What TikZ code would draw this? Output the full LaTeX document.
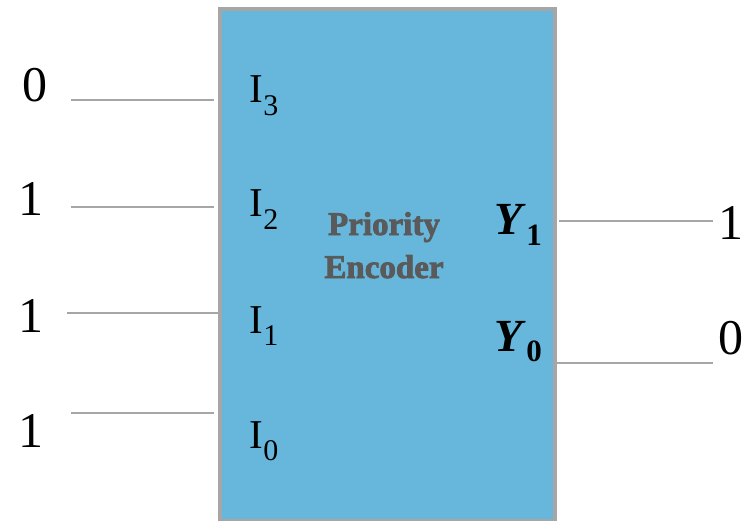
\documentclass[tikz,border=0pt]{standalone}
\usepackage{fontspec}
\setmainfont{Liberation Serif}
\newfontface\posterface[FakeBold=2.4]{Liberation Serif Bold}
\usepackage{tikz}
\usetikzlibrary{positioning}
\definecolor{boxblue}{HTML}{67B7DC}
\definecolor{wiregray}{HTML}{A6A6A6}
\definecolor{titlegray}{HTML}{5A5A5A}
\tikzset{wire/.style = {draw = wiregray, line width = 2pt}}
\tikzset{bit/.style = {anchor = base, inner sep = 0, font = \fontsize{50}{50}\selectfont}}
\tikzset{pin/.style = {anchor = base west, inner sep = 0, font = \fontsize{41}{41}\selectfont}}
\tikzset{outpin/.style = {anchor = base west, inner sep = 0, font = \fontsize{46}{46}\selectfont\bfseries\itshape}}
\newcommand{\inpin}[1]{I\raisebox{-12.5pt}{\fontsize{30}{30}\selectfont #1}}
\newcommand{\outpin}[1]{Y\kern4pt\raisebox{-10pt}{\fontsize{31}{31}\selectfont\upshape #1}}

\begin{document}
\begin{tikzpicture}[x = 1pt, y = -1pt]
      \useasboundingbox (0, 0) rectangle (754, 521);

      \draw [draw = wiregray, fill = boxblue, line width = 4pt] (219.5, 9.5) rectangle (555, 520.5);
      \node [align = center, text = titlegray, inner sep = 0, anchor = base,
             font = \fontsize{33}{43}\selectfont\posterface] (title) at (384, 278) {Priority\\Encoder};

      \node [pin] (i3) at (249.5, 103) {\inpin{3}};
      \node [pin] (i2) at (249.5, 217) {\inpin{2}};
      \node [pin] (i1) at (249.5, 333) {\inpin{1}};
      \node [pin] (i0) at (249.5, 448) {\inpin{0}};

      \node [bit] (v3) at (34.5, 102) {0};
      \node [bit] (v2) at (31, 216) {1};
      \node [bit] (v1) at (31, 332) {1};
      \node [bit] (v0) at (31, 447) {1};

      \coordinate (a3) at (71, 100);   \coordinate (b3) at (214, 100);
      \coordinate (a2) at (71, 207);   \coordinate (b2) at (214, 207);
      \coordinate (a1) at (67, 313);   \coordinate (b1) at (218, 313);
      \coordinate (a0) at (71, 413);   \coordinate (b0) at (214, 413);
      \foreach \k in {0, 1, 2, 3}
        \draw [wire] (a\k) -- (b\k);

      \node [outpin] (y1) at (494, 235) {\outpin{1}};
      \node [outpin] (y0) at (494, 351) {\outpin{0}};

      \coordinate (c1) at (559, 221);  \coordinate (d1) at (713, 221);
      \coordinate (c0) at (557, 363);  \coordinate (d0) at (713, 363);
      \draw [wire] (c1) -- (d1);
      \draw [wire] (c0) -- (d0);

      \node [bit] (w1) at (731, 240) {1};
      \node [bit] (w0) at (731, 354) {0};
    \end{tikzpicture}
\end{document}
